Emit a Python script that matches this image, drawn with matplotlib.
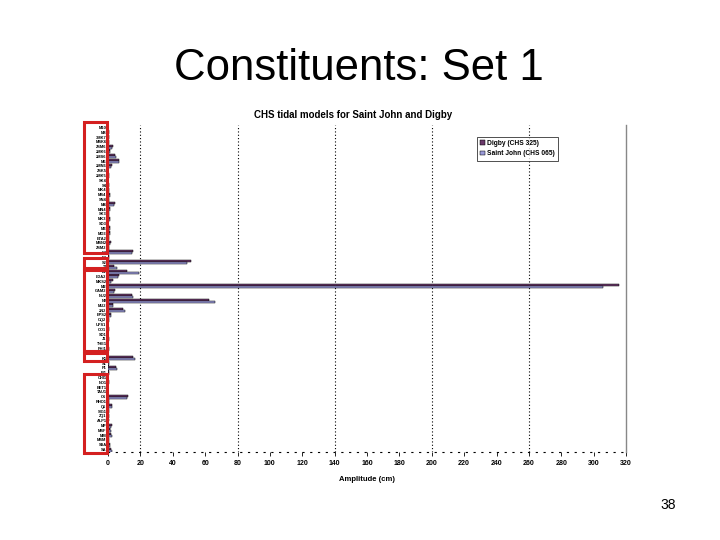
import matplotlib
matplotlib.use("Agg")
import matplotlib.pyplot as plt
from matplotlib.patches import Rectangle
import numpy as np

plt.rcParams['font.family'] = ['Liberation Sans', 'DejaVu Sans']

constituents = ["SA", "SSA", "MSM", "MM", "MSF", "MF", "ALP1", "2Q1", "SIG1", "Q1",
                "RHO1", "O1", "TAU1", "BET1", "NO1", "CHI1", "PI1", "P1", "S1", "K1",
                "PSI1", "PHI1", "THE1", "J1", "SO1", "OO1", "UPS1", "OQ2", "EPS2", "2N2",
                "MU2", "N2", "NU2", "GAM2", "M2", "MKS2", "LDA2", "L2", "T2", "S2",
                "R2", "K2", "2SM2", "MSN2", "ETA2", "MO3", "M3", "SO3", "MK3", "SK3",
                "MN4", "M4", "SN4", "MS4", "MK4", "S4", "SK4", "2MK5", "2SK5", "2MN6",
                "M6", "2MS6", "2MK6", "2SM6", "MSK6", "3MK7", "M8", "M10"]

digby = [2.0, 1.2, 0.5, 1.6, 1.4, 2.4, 0.5, 0.6, 0.6, 2.5,
         0.4, 12.3, 0.3, 0.3, 0.9, 0.3, 0.4, 5.2, 0.6, 15.5,
         0.3, 0.4, 0.3, 0.8, 0.3, 0.5, 0.2, 0.9, 1.8, 9.5,
         3.0, 62.5, 15.0, 4.5, 315.6, 3.0, 6.5, 12.0, 3.5, 51.0,
         0.5, 15.2, 0.6, 2.0, 0.8, 1.0, 1.5, 0.3, 1.0, 0.5,
         1.5, 4.3, 0.8, 1.2, 0.6, 0.4, 0.3, 0.5, 0.3, 2.5,
         6.8, 4.5, 1.5, 2.8, 0.6, 0.4, 0.5, 0.3]

saint_john = [2.3, 1.5, 0.8, 2.5, 2.0, 2.0, 0.3, 0.6, 0.7, 2.3,
              0.5, 12.0, 0.3, 0.3, 0.8, 0.3, 0.4, 5.5, 0.6, 16.8,
              0.3, 0.4, 0.3, 0.8, 0.3, 0.5, 0.2, 0.9, 2.0, 10.5,
              3.0, 66.0, 15.5, 4.0, 306.0, 2.0, 6.0, 19.0, 5.4, 48.5,
              0.5, 14.6, 0.5, 1.5, 0.8, 1.0, 1.5, 0.3, 1.0, 0.5,
              1.5, 4.0, 0.8, 1.5, 0.6, 0.4, 0.3, 0.5, 0.3, 2.0,
              7.0, 5.0, 1.5, 2.5, 0.6, 0.4, 0.5, 0.3]

x_ticks = list(range(0, 321, 20))
grid_x = [20, 80, 140, 200, 260]

fig = plt.figure(figsize=(7.2, 5.4), dpi=100)
fig.patch.set_facecolor('white')

ax = fig.add_axes([108/720, 1-452/540, (626-108)/720, (452-125)/540])
y = np.arange(len(constituents))
h = 0.42
ax.barh(y + h/2, digby, height=h, color='#6b3a6b', edgecolor='black', linewidth=0.35,
        label='Digby (CHS 325)', zorder=3)
ax.barh(y - h/2, saint_john, height=h, color='#9a9ad8', edgecolor='black', linewidth=0.35,
        label='Saint John (CHS 065)', zorder=3)

ax.set_xlim(0, 320)
ax.set_ylim(-0.5, len(constituents) - 0.5)
ax.set_xticks(x_ticks)
ax.set_xticklabels([str(t) for t in x_ticks], fontsize=5, fontweight='bold')
ax.set_yticks(y)
ax.set_yticklabels(constituents, fontsize=2.9, fontweight='bold')
ax.tick_params(axis='y', length=0, pad=1)
ax.tick_params(axis='x', length=3, width=0.6, pad=3, direction='out')

for gx in grid_x:
    ax.axvline(gx, color='black', linestyle=(0, (1, 2)), linewidth=0.8, zorder=1)

ax.spines['top'].set_visible(False)
ax.spines['right'].set_color('#888888')
ax.spines['right'].set_linewidth(1.0)
ax.spines['left'].set_color('black')
ax.spines['left'].set_linewidth(0.6)
ax.spines['bottom'].set_linestyle((0, (1, 6)))
ax.spines['bottom'].set_linewidth(0.8)

ax.set_xlabel('Amplitude (cm)', fontsize=5.5, fontweight='bold', labelpad=6)

leg = ax.legend(loc='upper left', bbox_to_anchor=(0.705, 0.975),
                frameon=True, fancybox=False, edgecolor='black', handlelength=0.7,
                handleheight=0.7, handletextpad=0.4, borderpad=0.5, labelspacing=0.5,
                prop={'weight': 'bold', 'size': 4.8})
leg.get_frame().set_linewidth(0.6)

fig.text(353/720, 1-115/540, 'CHS tidal models for Saint John and Digby',
         ha='center', va='center', fontsize=7, fontweight='bold')

fig.text(359/720, 1-68/540, 'Constituents: Set 1', ha='center', va='center',
         fontsize=31.5)
fig.text(668/720, 1-505/540, '38', ha='center', va='center', fontsize=10)

boxes = [(84, 122, 107, 253), (84, 258, 107, 268), (84, 270, 107, 351),
         (84, 353, 107, 361), (84, 374, 107, 453)]
for x0, y0, x1, y1 in boxes:
    fig.patches.append(Rectangle((x0/720, 1-y1/540), (x1-x0)/720, (y1-y0)/540,
                                 transform=fig.transFigure, fill=False,
                                 edgecolor='#d42020', linewidth=2.2, zorder=10))

fig.savefig('out.png', dpi=100, facecolor='white')
